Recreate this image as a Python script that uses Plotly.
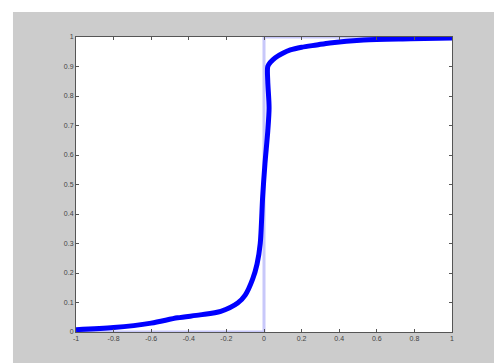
import plotly.graph_objects as go

# Smoothed response curve (approximation of a unit step)
curve_x = [-1.0, -0.8, -0.6, -0.46, -0.34, -0.23, -0.14, -0.1, -0.06, -0.037, -0.02,
           -0.007, 0.005, 0.02, 0.027, 0.02, 0.02, 0.035, 0.06, 0.1, 0.14, 0.2, 0.28,
           0.35, 0.53, 0.78, 1.0]
curve_y = [0.008, 0.015, 0.03, 0.048, 0.058, 0.07, 0.098, 0.125, 0.18, 0.23, 0.30,
           0.46, 0.57, 0.68, 0.76, 0.85, 0.90, 0.915, 0.93, 0.945, 0.956, 0.965, 0.973,
           0.98, 0.99, 0.994, 0.997]

# Ideal step
step_x = [-1, 0, 0, 1]
step_y = [0, 0, 1, 1]

x_ticks = [-1, -0.8, -0.6, -0.4, -0.2, 0, 0.2, 0.4, 0.6, 0.8, 1]
x_tick_labels = ["-1", "-0.8", "-0.6", "-0.4", "-0.2", "0", "0.2", "0.4", "0.6", "0.8", "1"]
y_ticks = [0, 0.1, 0.2, 0.3, 0.4, 0.5, 0.6, 0.7, 0.8, 0.9, 1]
y_tick_labels = ["0", "0.1", "0.2", "0.3", "0.4", "0.5", "0.6", "0.7", "0.8", "0.9", "1"]

fig = go.Figure()
fig.add_trace(go.Scatter(x=step_x, y=step_y, mode="lines",
                         line=dict(color="#c8c8fa", width=3), hoverinfo="skip"))
fig.add_trace(go.Scatter(x=curve_x, y=curve_y, mode="lines",
                         line=dict(color="#0000ff", width=5, shape="spline", smoothing=0.8)))

axis_common = dict(showgrid=False, zeroline=False, showline=True, linecolor="#555555",
                   linewidth=1, mirror="ticks", ticks="inside", ticklen=3,
                   tickcolor="#555555", tickfont=dict(size=7, color="#444444",
                                                      family="Liberation Sans"))
fig.update_xaxes(range=[-1, 1], tickvals=x_ticks, ticktext=x_tick_labels, **axis_common)
fig.update_yaxes(range=[0, 1], tickvals=y_ticks, ticktext=y_tick_labels, **axis_common)

# White margin strips along the top and left of the gray figure area
fig.add_shape(type="rect", xref="paper", yref="paper", x0=-0.3, x1=1.2, y0=1.085, y1=1.2,
              fillcolor="white", line_width=0, layer="above")
fig.add_shape(type="rect", xref="paper", yref="paper", x0=-0.3, x1=-0.1676, y0=-0.2, y1=1.2,
              fillcolor="white", line_width=0, layer="above")

fig.update_layout(width=494, height=363, margin=dict(l=76, r=42, t=37, b=31),
                  paper_bgcolor="#cccccc", plot_bgcolor="white", showlegend=False)

fig.write_html("out.html")
